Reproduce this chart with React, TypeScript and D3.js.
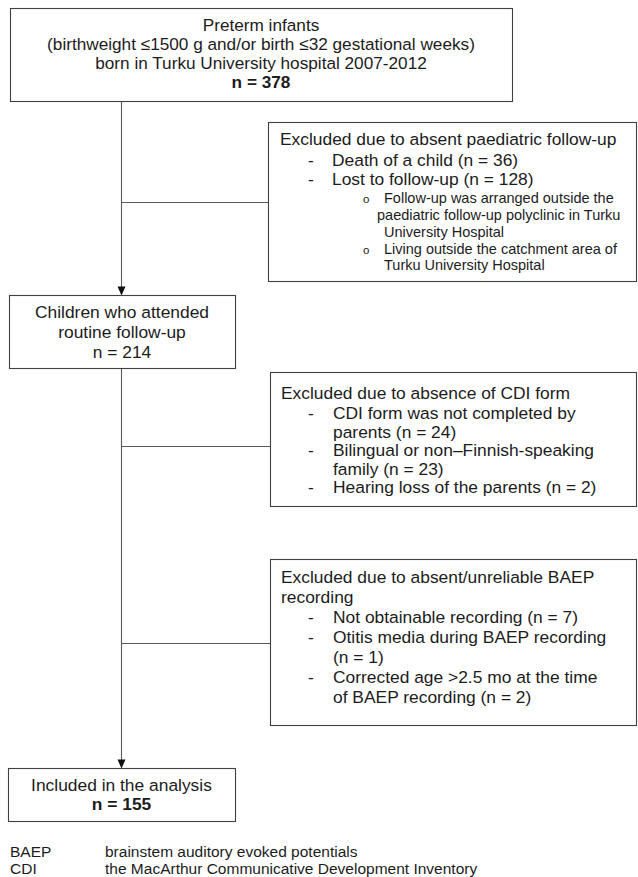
import React from "react";
import * as d3 from "d3";

type Line = { text: string; level: number; bold?: boolean; bullet?: string };

const topLines: Line[] = [
  { text: "Preterm infants", level: 0 },
  { text: "(birthweight ≤1500 g and/or birth ≤32 gestational weeks)", level: 0 },
  { text: "born in Turku University hospital 2007-2012", level: 0 },
  { text: "n = 378", level: 0, bold: true },
];

const excl1Lines: Line[] = [
  { text: "Excluded due to absent paediatric follow-up", level: 0 },
  { text: "Death of a child (n = 36)", level: 1, bullet: "-" },
  { text: "Lost to follow-up (n = 128)", level: 1, bullet: "-" },
  { text: "Follow-up was arranged outside the", level: 2, bullet: "o" },
  { text: "paediatric follow-up polyclinic in Turku", level: 3 },
  { text: "University Hospital", level: 2 },
  { text: "Living outside the catchment area of", level: 2, bullet: "o" },
  { text: "Turku University Hospital", level: 2 },
];

const attendedLines: Line[] = [
  { text: "Children who attended", level: 0 },
  { text: "routine follow-up", level: 0 },
  { text: "n = 214", level: 0 },
];

const excl2Lines: Line[] = [
  { text: "Excluded due to absence of CDI form", level: 0 },
  { text: "CDI form was not completed by", level: 1, bullet: "-" },
  { text: "parents (n = 24)", level: 1 },
  { text: "Bilingual or non–Finnish-speaking", level: 1, bullet: "-" },
  { text: "family (n = 23)", level: 1 },
  { text: "Hearing loss of the parents (n = 2)", level: 1, bullet: "-" },
];

const excl3Lines: Line[] = [
  { text: "Excluded due to absent/unreliable BAEP", level: 0 },
  { text: "recording", level: 0 },
  { text: "Not obtainable recording (n = 7)", level: 1, bullet: "-" },
  { text: "Otitis media during BAEP recording", level: 1, bullet: "-" },
  { text: "(n = 1)", level: 1 },
  { text: "Corrected age >2.5 mo at the time", level: 1, bullet: "-" },
  { text: "of BAEP recording (n = 2)", level: 1 },
];

const includedLines: Line[] = [
  { text: "Included in the analysis", level: 0 },
  { text: "n = 155", level: 0, bold: true },
];

const legendAbbr = ["BAEP", "CDI"];
const legendDesc = [
  "brainstem auditory evoked potentials",
  "the MacArthur Communicative Development Inventory",
];

const FONT = "'Liberation Sans', Arial, Helvetica, sans-serif";
const STROKE = "#404040";
const LINE = "#5a5a5a";
const TEXT = "#1c1c1c";

type Box = { x: number; y: number; w: number; h: number };

const B_TOP: Box = { x: 10, y: 8, w: 502, h: 93 };
const B_EX1: Box = { x: 268, y: 122, w: 368, h: 159 };
const B_ATT: Box = { x: 9, y: 295, w: 226, h: 73 };
const B_EX2: Box = { x: 270, y: 372, w: 366, h: 134 };
const B_EX3: Box = { x: 270, y: 559, w: 366, h: 166 };
const B_INC: Box = { x: 8, y: 768, w: 227, h: 53 };

const SPINE_X = 121;
const BRANCH_Y = [202, 446, 643];

function Rect({ b }: { b: Box }) {
  return (
    <rect x={b.x + 0.5} y={b.y + 0.5} width={b.w} height={b.h} fill="#fff" stroke={STROKE} strokeWidth={1.1} />
  );
}

function Centered({ lines, cx, y0, step, size }: { lines: Line[]; cx: number; y0: number; step: number; size: number }) {
  const y = d3.scaleLinear().domain([0, 1]).range([y0, y0 + step]);
  return (
    <g>
      {lines.map((l, i) => (
        <text key={i} x={cx} y={y(i)} textAnchor="middle" fontSize={size} fontWeight={l.bold ? "bold" : "normal"} fill={TEXT}>
          {l.text}
        </text>
      ))}
    </g>
  );
}

function Listed({
  lines,
  x0,
  ys,
  indents,
  bulletX,
  sizes,
}: {
  lines: Line[];
  x0: number;
  ys: number[];
  indents: number[];
  bulletX: number[];
  sizes: number[];
}) {
  return (
    <g>
      {lines.map((l, i) => {
        const fs = sizes[l.level];
        const yy = ys[i];
        return (
          <g key={i}>
            {l.bullet && (
              <text x={x0 + bulletX[l.level]} y={yy} fontSize={l.bullet === "o" ? fs - 3 : fs} fill={TEXT}>
                {l.bullet}
              </text>
            )}
            <text x={x0 + indents[l.level]} y={yy} fontSize={fs} fill={TEXT}>
              {l.text}
            </text>
          </g>
        );
      })}
    </g>
  );
}

export default function App() {
  const W = 638;
  const H = 877;
  const arrow = (x: number, y: number) => {
    const p = d3.path();
    p.moveTo(x - 4, y - 9);
    p.lineTo(x + 4, y - 9);
    p.lineTo(x, y);
    p.closePath();
    return p.toString();
  };
  const ex1Y = [145, 166, 185, 203, 219.5, 236.5, 254, 270];
  const ex2Y = [399, 418.5, 437.5, 456, 474.5, 493];
  const ex3Y = d3.range(excl3Lines.length).map((i) => 583 + i * 20);
  return (
    <svg width={W} height={H} style={{ position: "absolute", left: 0, top: 0, background: "#fff" }} fontFamily={FONT}>
      <rect x={0} y={0} width={W} height={H} fill="#fff" />
      {/* spine */}
      <line x1={SPINE_X + 0.5} y1={B_TOP.y + B_TOP.h} x2={SPINE_X + 0.5} y2={B_ATT.y - 8} stroke={LINE} strokeWidth={1.1} />
      <path d={arrow(SPINE_X + 0.5, B_ATT.y + 0.5)} fill="#111" />
      <line x1={SPINE_X + 0.5} y1={B_ATT.y + B_ATT.h} x2={SPINE_X + 0.5} y2={B_INC.y - 8} stroke={LINE} strokeWidth={1.1} />
      <path d={arrow(SPINE_X + 0.5, B_INC.y + 0.5)} fill="#111" />
      {/* branches */}
      {[B_EX1, B_EX2, B_EX3].map((b, i) => (
        <line key={i} x1={SPINE_X} y1={BRANCH_Y[i] + 0.5} x2={b.x} y2={BRANCH_Y[i] + 0.5} stroke={LINE} strokeWidth={1.1} />
      ))}

      <Rect b={B_TOP} />
      <Centered lines={topLines} cx={B_TOP.x + B_TOP.w / 2} y0={31} step={19} size={17.2} />

      <Rect b={B_EX1} />
      <Listed
        lines={excl1Lines}
        x0={B_EX1.x}
        ys={ex1Y}
        indents={[12, 64, 116, 109]}
        bulletX={[0, 40, 95, 95]}
        sizes={[17.4, 17.4, 14.5, 14.5]}
      />

      <Rect b={B_ATT} />
      <Centered lines={attendedLines} cx={B_ATT.x + B_ATT.w / 2} y0={318} step={20} size={17.4} />

      <Rect b={B_EX2} />
      <Listed lines={excl2Lines} x0={B_EX2.x} ys={ex2Y} indents={[11, 63]} bulletX={[0, 38]} sizes={[17.4, 17.4]} />

      <Rect b={B_EX3} />
      <Listed lines={excl3Lines} x0={B_EX3.x} ys={ex3Y} indents={[11, 63]} bulletX={[0, 38]} sizes={[17.4, 17.4]} />

      <Rect b={B_INC} />
      <Centered lines={includedLines} cx={B_INC.x + B_INC.w / 2} y0={791} step={19} size={17.4} />

      {legendAbbr.map((a, i) => (
        <g key={a}>
          <text x={10} y={857 + i * 16.5} fontSize={15.5} fill={TEXT}>
            {a}
          </text>
          <text x={105} y={857 + i * 16.5} fontSize={15.5} fill={TEXT}>
            {legendDesc[i]}
          </text>
        </g>
      ))}
    </svg>
  );
}
